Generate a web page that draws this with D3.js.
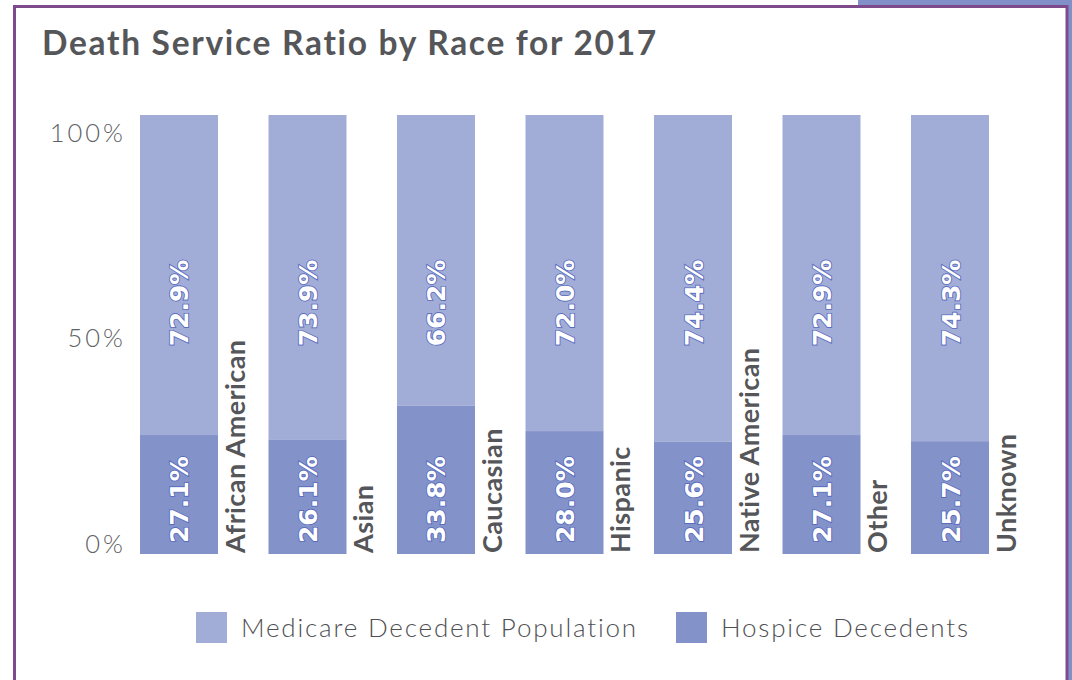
<!DOCTYPE html>
<html>
<head>
<meta charset="utf-8">
<script src="https://cdn.jsdelivr.net/npm/d3@7/dist/d3.min.js"></script>
<style>
  html, body { margin: 0; padding: 0; background: #ffffff; }
  svg { display: block; }
</style>
</head>
<body>
<svg id="chart" width="1072" height="680"></svg>
<script>
// Death service ratio by race, 2017
const races = ["African American", "Asian", "Caucasian", "Hispanic", "Native American", "Other", "Unknown"];
const hospiceDecedents = [27.1, 26.1, 33.8, 28.0, 25.6, 27.1, 25.7];
const medicarePopulation = [72.9, 73.9, 66.2, 72.0, 74.4, 72.9, 74.3];
const yTicks = [0, 50, 100];
const seriesNames = ["Medicare Decedent Population", "Hospice Decedents"];

const colors = {
  medicare: "#a2add7",
  hospice: "#8392c9",
  frame: "#7e4a8c",
  accent: "#8190c8",
  title: "#555659",
  axis: "#606164",
  category: "#555659"
};

const svg = d3.select("#chart");
const W = 1072, H = 680;

// Accent strip outside the frame (top right)
svg.append("rect").attr("x", 858).attr("y", 0).attr("width", W - 858).attr("height", 7).attr("fill", colors.accent);
svg.append("rect").attr("x", 1068).attr("y", 0).attr("width", 4).attr("height", H).attr("fill", colors.accent);

// Card frame
svg.append("rect")
  .attr("x", 14.5).attr("y", 6.5)
  .attr("width", 1052.5).attr("height", H + 20)
  .attr("fill", "#ffffff")
  .attr("stroke", colors.frame)
  .attr("stroke-width", 3);

// Title
svg.append("text")
  .attr("x", 42).attr("y", 55)
  .attr("font-family", "Lato, 'Open Sans', sans-serif")
  .attr("font-weight", 700)
  .attr("font-size", 33.5)
  .attr("letter-spacing", 1.7)
  .attr("fill", colors.title)
  .text("Death Service Ratio by Race for 2017");

// Scales
const x = d3.scaleBand()
  .domain(races)
  .range([140, 989])
  .paddingInner(0.393)
  .paddingOuter(0);

const y = d3.scaleLinear().domain([0, 100]).range([554, 115]);
// tick labels sit slightly inside the bar extent
const yLabel = d3.scaleLinear().domain([0, 100]).range([544, 133]);

// Y axis labels (no line, no ticks)
const yAxis = d3.axisLeft(yLabel)
  .tickValues(yTicks)
  .tickFormat(d => d + "%")
  .tickSize(0)
  .tickPadding(0);

const gy = svg.append("g")
  .attr("transform", "translate(126,0)")
  .call(yAxis);
gy.select(".domain").remove();
gy.selectAll("text")
  .attr("font-family", "Lato, sans-serif")
  .attr("font-weight", 300)
  .attr("font-size", 25.5)
  .attr("letter-spacing", 3)
  .attr("fill", colors.axis);

// Stacked data
const rows = races.map((r, i) => ({ race: r, hospice: hospiceDecedents[i], medicare: medicarePopulation[i] }));

const bars = svg.append("g").selectAll("g.bar")
  .data(rows)
  .join("g")
  .attr("class", "bar");

bars.append("rect")
  .attr("x", d => x(d.race))
  .attr("width", x.bandwidth())
  .attr("y", d => y(d.hospice + d.medicare))
  .attr("height", d => y(d.hospice) - y(d.hospice + d.medicare))
  .attr("fill", colors.medicare);

bars.append("rect")
  .attr("x", d => x(d.race))
  .attr("width", x.bandwidth())
  .attr("y", d => y(d.hospice))
  .attr("height", d => y(0) - y(d.hospice))
  .attr("fill", colors.hospice);

// Value labels, rotated, white with blue outline
const valueFont = 25;
function valueLabel(sel, anchorValue, accessor) {
  sel.append("text")
    .attr("transform", d => {
      const cx = x(d.race) + x.bandwidth() / 2 + valueFont * 0.38;
      return `translate(${cx},${y(anchorValue)}) rotate(-90)`;
    })
    .attr("text-anchor", "start")
    .attr("font-family", "'DejaVu Sans', sans-serif")
    .attr("font-weight", 700)
    .attr("font-size", valueFont)
    .attr("fill", "#ffffff")
    .attr("stroke", "#5a6cbf")
    .attr("stroke-width", 1.8)
    .attr("paint-order", "stroke")
    .text(d => accessor(d).toFixed(1) + "%");
}
valueLabel(bars, 2.5, d => d.hospice);
valueLabel(bars, 47.3, d => d.medicare);

// Category labels, rotated, right of each bar
bars.append("text")
  .attr("transform", d => `translate(${x(d.race) + x.bandwidth() + 27},${y(0) - 1}) rotate(-90)`)
  .attr("text-anchor", "start")
  .attr("font-family", "Lato, sans-serif")
  .attr("font-weight", 700)
  .attr("font-size", 27)
  .attr("letter-spacing", 0.4)
  .attr("fill", colors.category)
  .text(d => d.race);

// Legend
const legendItems = [
  { name: seriesNames[0], color: colors.medicare, x: 196 },
  { name: seriesNames[1], color: colors.hospice, x: 676 }
];
const lg = svg.append("g").selectAll("g")
  .data(legendItems)
  .join("g")
  .attr("transform", d => `translate(${d.x},612)`);
lg.append("rect").attr("width", 31).attr("height", 31).attr("fill", d => d.color);
lg.append("text")
  .attr("x", 45).attr("y", 25)
  .attr("font-family", "Lato, sans-serif")
  .attr("font-weight", 300)
  .attr("font-size", 26)
  .attr("letter-spacing", 1.8)
  .attr("fill", "#4f5053")
  .text(d => d.name);
</script>
</body>
</html>
